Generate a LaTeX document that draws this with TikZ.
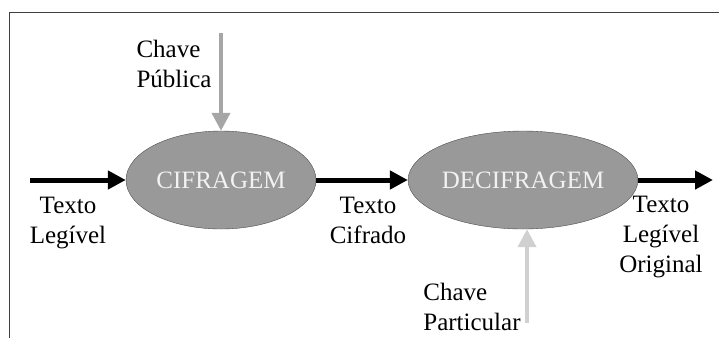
\documentclass[tikz,border=0pt]{standalone}
\usepackage{fontspec}
\setmainfont{Liberation Serif}
\usetikzlibrary{arrows.meta,shapes.geometric}

\definecolor{stagegray}{HTML}{999999}
\definecolor{pubgray}{HTML}{A6A6A6}
\definecolor{privgray}{HTML}{D0D0D0}

\begin{document}
\begin{tikzpicture}[x=1pt,y=-1pt,
    font=\fontsize{25}{30}\selectfont,
    flow/.style={-{Triangle[length=18pt,width=18pt]},line width=5pt},
    keyarrow/.style={-{Triangle[length=18pt,width=18pt]},line width=4pt},
    stage/.style={ellipse,draw=black!70,fill=stagegray,text=white!95!black,
      minimum width=190pt,minimum height=98pt,inner sep=0pt},
    txt/.style={inner sep=0pt,anchor=base}]
  \useasboundingbox (0,0) rectangle (719,338);
  % frame
  \draw[black!75,line width=1pt] (9,338) -- (9,12) -- (719,12);

  % the two stages
  \node[stage] (cif) at (221,180) {CIFRAGEM};
  \node[stage] (dec) at (523,180) {DECIFRAGEM};

  \coordinate (in) at (30,180);
  \coordinate (out) at (713,180);
  \coordinate (pubtop) at (221,33);
  \coordinate (privbot) at (527,323);

  \draw[flow] (in) -- (cif.west);
  \draw[flow] (cif.east) -- (dec.west);
  \draw[flow] (dec.east) -- (out);
  \draw[keyarrow,draw=pubgray] (pubtop) -- (cif.north);
  \draw[keyarrow,draw=privgray] (privbot) -- (privbot |- dec.south);

  % labels (base = last line)
  \node[txt,align=left] (pub) at (174,87) {Chave\\Pública};
  \node[txt,align=center] (plain) at (68,243) {Texto\\Legível};
  \node[txt,align=center] (cipher) at (368,243) {Texto\\Cifrado};
  \node[txt,align=center] (orig) at (661,272) {Texto\\Legível\\Original};
  \node[txt,align=left] (priv) at (472,330) {Chave\\Particular};
\end{tikzpicture}
\end{document}
